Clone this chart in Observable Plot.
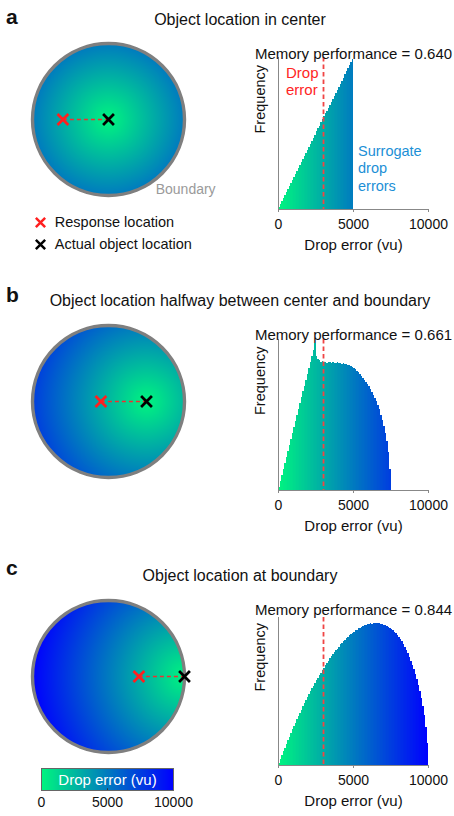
<!DOCTYPE html>
<html><head><meta charset="utf-8">
<script src="https://cdn.jsdelivr.net/npm/d3@7"></script>
<script src="https://cdn.jsdelivr.net/npm/@observablehq/plot@0.6"></script>
<style>
html,body{margin:0;padding:0;background:#fff;}
#fig{position:relative;width:454px;height:816px;overflow:hidden;font-family:"Liberation Sans",Arial,Helvetica,sans-serif;color:#111;}
.t{position:absolute;white-space:nowrap;line-height:1;}
</style></head>
<body><div id="fig"></div>
<script>
// ---------------- data ----------------
const panelLetters = ["a", "b", "c"];
const panelTitles = [
  "Object location in center",
  "Object location halfway between center and boundary",
  "Object location at boundary"
];
const memoryPerformance = [0.640, 0.661, 0.844];
const arenaRadius = 5000;            // vu
const objectX = [0, 2500, 5000];     // actual object location (vu from center)
const responseX = [-3000, -500, 2000]; // response location (vu from center)
const dropError = 3000;              // vu
const binWidth = 100;                // vu
const xTicks = [0, 5000, 10000];
const legendTicks = [0, 5000, 10000];
const legendLabels = ["Response location", "Actual object location"];

// relative frequency of surrogate drop errors (100-vu bins)
const histA = [
  .01,.03,.05,.07,.09,.11,.13,.15,.17,.19,
  .21,.23,.25,.27,.29,.31,.33,.35,.37,.385,
  .41,.43,.45,.47,.49,.51,.53,.545,.57,.59,
  .615,.63,.645,.665,.685,.705,.725,.745,.765,.785,
  .80,.825,.845,.865,.885,.905,.925,.945,.965,.99
];
const histB = [
  .02,.06,.10,.14,.18,.22,.26,.30,.34,.38,
  .42,.455,.495,.535,.575,.615,.655,.69,.73,.77,
  .81,.85,.89,.93,.975,.89,.865,.86,.85,.855,
  .845,.848,.842,.85,.846,.84,.848,.843,.838,.845,
  .84,.843,.836,.84,.832,.835,.826,.828,.818,.816,
  .806,.80,.79,.783,.77,.758,.745,.73,.716,.70,
  .686,.67,.652,.632,.61,.588,.562,.534,.50,.463,
  .424,.378,.322,.25,.14
];
const histC = [
  .013,.04,.066,.092,.117,.143,.168,.192,.216,.24,
  .263,.287,.309,.332,.354,.375,.397,.418,.438,.459,
  .479,.498,.518,.536,.555,.573,.591,.608,.625,.642,
  .658,.674,.69,.705,.72,.734,.748,.762,.775,.787,
  .80,.815,.822,.836,.843,.856,.862,.877,.882,.893,
  .899,.91,.914,.924,.926,.935,.937,.945,.946,.952,
  .953,.958,.956,.961,.958,.962,.958,.96,.955,.954,
  .949,.946,.94,.935,.927,.92,.911,.901,.89,.878,
  .865,.85,.835,.818,.798,.778,.756,.732,.706,.678,
  .647,.614,.578,.539,.497,.45,.396,.335,.26,.15
];
const hists = [histA, histB, histC];

// ---------------- layout / style ----------------
const fig = document.getElementById("fig");
const FONT = '"Liberation Sans", Arial, Helvetica, sans-serif';
const colorOpts = {type: "linear", domain: [0, 10000], range: ["#00f580", "#0000ff"], interpolate: "rgb"};
const layout = [
  {letterTop: 5.5, titleTop: 12.3, circleTop: 37.5, histFrameTop: 57, histFrameH: 152},
  {letterTop: 284.2, titleTop: 293.2, circleTop: 319.5, histFrameTop: 339, histFrameH: 151},
  {letterTop: 557.2, titleTop: 568.2, circleTop: 594.5, histFrameTop: 617, histFrameH: 148}
];

function put(node, left, top) {
  node.style.position = "absolute";
  node.style.left = left + "px";
  node.style.top = top + "px";
  fig.appendChild(node);
  return node;
}
function html(text, left, top, size, extra = {}) {
  const d = document.createElement("div");
  d.className = "t";
  d.textContent = text;
  d.style.fontSize = size + "px";
  Object.assign(d.style, extra);
  return put(d, left, top);
}

function circlePlot(i) {
  const R = arenaRadius, ox = objectX[i], rx = responseX[i];
  const link = [{x1: rx, x2: ox, y: 0}];
  const resp = [{x: rx, y: 0}];
  const obj = [{x: ox, y: 0}];
  const center = [{x: 0, y: 0}];
  return Plot.plot({
    width: 162, height: 162, margin: 5,
    x: {domain: [-R, R], axis: null},
    y: {domain: [-R, R], axis: null},
    color: colorOpts,
    style: {background: "transparent", overflow: "visible"},
    marks: [
      Plot.raster({x1: -R, x2: R, y1: -R, y2: R,
        fill: (x, y) => (x * x + y * y <= R * R ? Math.hypot(x - ox, y) : NaN)}),
      Plot.dot(center, {x: "x", y: "y", r: 76, stroke: "#7f7f7f", strokeWidth: 3.4, fill: "none"}),
      Plot.link(link, {x1: "x1", x2: "x2", y1: "y", y2: "y", stroke: "#f03030", strokeWidth: 1.7, strokeDasharray: "4,3"}),
      Plot.dot(resp, {x: "x", y: "y", symbol: "times", r: 5, stroke: "#ff1f1f", strokeWidth: 2.7}),
      Plot.dot(obj, {x: "x", y: "y", symbol: "times", r: 5, stroke: "#000", strokeWidth: 2.7})
    ]
  });
}

function histPlot(i) {
  const L = layout[i];
  const mt = 27, mb = 52;
  const data = hists[i].map((v, k) => ({x1: k * binWidth, x2: (k + 1) * binWidth, y: v, c: (k + 0.5) * binWidth}));
  const marks = [
    Plot.rect(data, {x1: "x1", x2: "x2", y1: 0, y2: "y", fill: "c", inset: 0, shapeRendering: "crispEdges"}),
    Plot.ruleX([dropError], {stroke: "#f04545", strokeWidth: 1.8, strokeDasharray: "4.5,3"}),
    Plot.ruleY([0], {stroke: "#888"}),
    Plot.ruleX([0], {stroke: "#888"}),
    Plot.axisX({ticks: xTicks, tickSize: 3, tickFormat: () => "", label: null, stroke: "#888"}),
    Plot.text(xTicks, {x: d => d, text: d => String(d), frameAnchor: "bottom", dy: 19.5, fontSize: 14}),
    Plot.text(["Drop error (vu)"], {frameAnchor: "bottom", dy: 40.5, fontSize: 15}),
    Plot.text(["Frequency"], {frameAnchor: "left", dx: -18, rotate: -90, fontSize: 14.5}),
    Plot.text([`Memory performance = ${memoryPerformance[i].toFixed(3)}`],
      {frameAnchor: "top", dy: -(162 - L.histFrameH) + 0.4, fontSize: 15})
  ];
  if (i === 0) {
    marks.push(Plot.text(["Drop\nerror"], {frameAnchor: "top-left", dx: 7.5, dy: 8.8, lineAnchor: "top",
      textAnchor: "start", fill: "#ff2525", fontSize: 15, lineHeight: 1.13}));
    marks.push(Plot.text(["Surrogate\ndrop\nerrors"], {frameAnchor: "top-left", dx: 79.5, dy: 85.5, lineAnchor: "top",
      textAnchor: "start", fill: "#1c8fd6", fontSize: 14.5, lineHeight: 1.23}));
  }
  return Plot.plot({
    width: 216, height: mt + L.histFrameH + mb,
    marginLeft: 40, marginRight: 26, marginTop: mt, marginBottom: mb,
    x: {domain: [0, 10000], axis: null},
    y: {domain: [0, 1], axis: null},
    color: colorOpts,
    style: {fontFamily: FONT, fontSize: "14px", color: "#111", background: "transparent", overflow: "visible"},
    marks
  });
}

function markerLegend() {
  const data = legendLabels.map((l, k) => ({label: l, color: k === 0 ? "#ff1f1f" : "#000"}));
  return Plot.plot({
    width: 200, height: 46,
    x: {domain: [0, 1], range: [10, 190], axis: null},
    y: {type: "point", domain: legendLabels, range: [12, 34], padding: 0, axis: null},
    color: {type: "identity"},
    style: {fontFamily: FONT, fontSize: "14.5px", color: "#111", background: "transparent", overflow: "visible"},
    marks: [
      Plot.dot(data, {x: () => 0, y: "label", symbol: "times", r: 4.3, stroke: "color", strokeWidth: 2.5}),
      Plot.text(data, {x: () => 0, y: "label", text: "label", dx: 14.3, textAnchor: "start"})
    ]
  });
}

function colorbar() {
  return Plot.plot({
    width: 220, height: 56, marginLeft: 41, marginRight: 47, marginTop: 8, marginBottom: 26,
    x: {domain: [0, 10000], axis: null},
    y: {domain: [0, 1], axis: null},
    color: colorOpts,
    style: {fontFamily: FONT, fontSize: "14px", color: "#111", background: "transparent", overflow: "visible"},
    marks: [
      Plot.raster({x1: 0, x2: 10000, y1: 0, y2: 1, fill: (x, y) => x}),
      Plot.frame({stroke: "#666"}),
      Plot.ruleX([5000], {y1: 0, y2: 0.08, stroke: "#333"}),
      Plot.text(["Drop error (vu)"], {frameAnchor: "middle", fill: "#fff", fontSize: 15, dy: 0.5}),
      Plot.text(legendTicks, {x: d => d, text: d => String(d), frameAnchor: "bottom", dy: 16, fontSize: 14})
    ]
  });
}

// ---------------- assemble ----------------
for (let i = 0; i < 3; ++i) {
  const L = layout[i];
  html(panelLetters[i], 6, L.letterTop, 21, {fontWeight: "bold"});
  html(panelTitles[i], 240, L.titleTop, 16, {transform: "translateX(-50%)"});
  put(circlePlot(i), 26.5, L.circleTop);
  put(histPlot(i), 238, L.histFrameTop - 27);
}
html("Boundary", 155.7, 182.1, 14, {color: "#9a9a9a"});
put(markerLegend(), 30, 210);
put(colorbar(), 0, 760);
</script>
</body></html>
